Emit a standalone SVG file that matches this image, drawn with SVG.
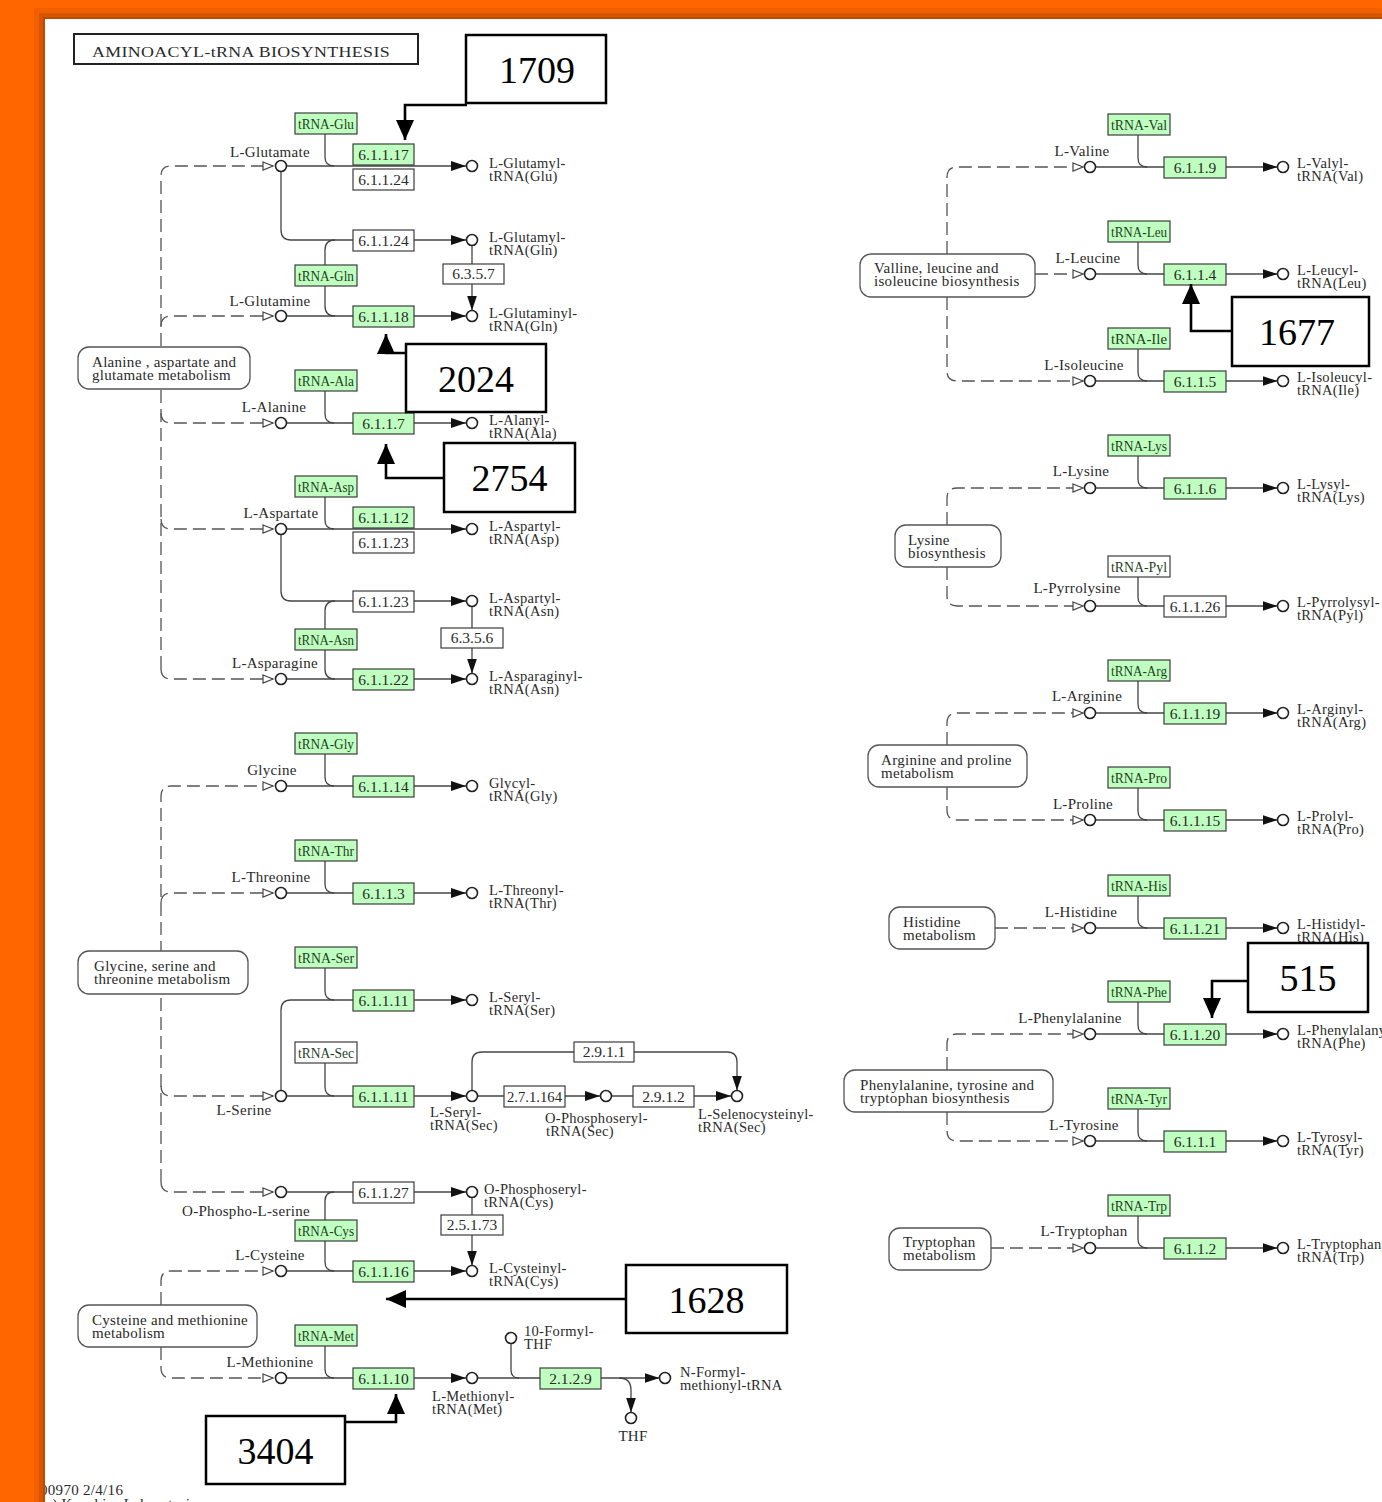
<svg xmlns="http://www.w3.org/2000/svg" width="1382" height="1502" viewBox="0 0 1382 1502">
<defs>
<style>
.t{font-family:"Liberation Serif","Times New Roman",serif;font-size:15px;letter-spacing:0.3px;fill:#2a2a2a}
.p{font-size:14.5px}
.m{text-anchor:middle}
.ec{font-family:"Liberation Serif","Times New Roman",serif;font-size:15.5px;fill:#2a2a2a;text-anchor:middle}
.tr{font-family:"Liberation Serif","Times New Roman",serif;font-size:14px;fill:#1f3f1f;text-anchor:middle}
.g{fill:#bfffbf;stroke:#3c3c3c;stroke-width:1.2}
.w{fill:#fff;stroke:#3c3c3c;stroke-width:1.2}
.map{fill:#fff;stroke:#555;stroke-width:1.3}
.c{fill:#fff;stroke:#222;stroke-width:1.6}
.ln{fill:none;stroke:#444;stroke-width:1.3}
.ds{fill:none;stroke:#555;stroke-width:1.3;stroke-dasharray:13 6}
.cb{fill:#fff;stroke:#000;stroke-width:2.5}
.cn{font-family:"Liberation Serif","Times New Roman",serif;font-size:38px;text-anchor:middle;fill:#000}
.ca{fill:none;stroke:#000;stroke-width:2.6}
</style>
<marker id="ar" markerUnits="userSpaceOnUse" viewBox="0 0 15 10" markerWidth="15" markerHeight="10" refX="15" refY="5" orient="auto"><path d="M0 0L15 5L0 10z" fill="#111"/></marker>
<marker id="op" markerUnits="userSpaceOnUse" viewBox="0 0 12 10" markerWidth="12" markerHeight="10" refX="11" refY="5" orient="auto"><path d="M1 1L11 5L1 9z" fill="#fff" stroke="#444" stroke-width="1.2"/></marker>
<marker id="big" markerUnits="userSpaceOnUse" viewBox="0 0 20 18" markerWidth="20" markerHeight="18" refX="20" refY="9" orient="auto"><path d="M0 0L20 9L0 18z" fill="#000"/></marker>
<clipPath id="panel"><rect x="45" y="19" width="1337" height="1483"/></clipPath>
</defs>

<g id="frame">
<rect width="1382" height="1502" fill="#ff6600"/>
<rect x="34" y="8" width="1348" height="1494" fill="#f06000"/>
<rect x="39" y="13" width="1343" height="1489" fill="#d85400"/>
<rect x="43" y="17" width="1339" height="1485" fill="#bf4a00"/>
<rect x="45" y="19" width="1337" height="1483" fill="#fff"/>
</g>

<g id="title">
<rect x="74" y="34" width="344" height="30" fill="#fff" stroke="#222" stroke-width="2"/>
<text class="t" x="92" y="57" font-size="17" textLength="298" lengthAdjust="spacingAndGlyphs">AMINOACYL-tRNA BIOSYNTHESIS</text>
</g>

<g id="footer" clip-path="url(#panel)">
<text class="t" x="40" y="1495">00970 2/4/16</text>
<text class="t" x="40" y="1509">(c) Kanehisa Laboratories</text>
</g>

<g id="connectors">
<path class="ds" d="M161 669 V176 Q161 166 171 166 H273" marker-end="url(#op)"/>
<path class="ds" d="M161 326 Q161 316 171 316 H273" marker-end="url(#op)"/>
<path class="ds" d="M161 413 Q161 423 171 423 H273" marker-end="url(#op)"/>
<path class="ds" d="M161 519 Q161 529 171 529 H273" marker-end="url(#op)"/>
<path class="ds" d="M161 669 Q161 679 171 679 H273" marker-end="url(#op)"/>
<path class="ds" d="M161 1182 V796 Q161 786 171 786 H273" marker-end="url(#op)"/>
<path class="ds" d="M161 903 Q161 893 171 893 H273" marker-end="url(#op)"/>
<path class="ds" d="M161 1086 Q161 1096 171 1096 H273" marker-end="url(#op)"/>
<path class="ds" d="M161 1182 Q161 1192 171 1192 H273" marker-end="url(#op)"/>
<path class="ds" d="M161 1305 V1281 Q161 1271 171 1271 H273" marker-end="url(#op)"/>
<path class="ds" d="M161 1347 V1368 Q161 1378 171 1378 H273" marker-end="url(#op)"/>
<path class="ds" d="M947 254 V177 Q947 167 957 167 H1083" marker-end="url(#op)"/>
<path class="ds" d="M1035 274 H1083" marker-end="url(#op)"/>
<path class="ds" d="M947 297 V371 Q947 381 957 381 H1083" marker-end="url(#op)"/>
<path class="ds" d="M947 525 V498 Q947 488 957 488 H1083" marker-end="url(#op)"/>
<path class="ds" d="M947 567 V596 Q947 606 957 606 H1083" marker-end="url(#op)"/>
<path class="ds" d="M947 745 V723 Q947 713 957 713 H1083" marker-end="url(#op)"/>
<path class="ds" d="M947 787 V810 Q947 820 957 820 H1083" marker-end="url(#op)"/>
<path class="ds" d="M995 928 H1083" marker-end="url(#op)"/>
<path class="ds" d="M947 1070 V1044 Q947 1034 957 1034 H1083" marker-end="url(#op)"/>
<path class="ds" d="M947 1112 V1131 Q947 1141 957 1141 H1083" marker-end="url(#op)"/>
<path class="ds" d="M991 1248 H1083" marker-end="url(#op)"/>

<path class="ln" d="M286.5 166 H466" marker-end="url(#ar)"/>
<path class="ln" d="M325 134 V157 Q325 166 334 166"/>
<path class="ln" d="M281 171.5 V230 Q281 240 291 240 H466" marker-end="url(#ar)"/>
<path class="ln" d="M325 265 V250 Q325 240 335 240"/>
<path class="ln" d="M325 286 V306 Q325 316 335 316"/>
<path class="ln" d="M286.5 316 H466" marker-end="url(#ar)"/>
<path class="ln" d="M472 245.5 V310.5" marker-end="url(#ar)"/>
<path class="ln" d="M286.5 423 H466" marker-end="url(#ar)"/>
<path class="ln" d="M325 391 V414 Q325 423 334 423"/>
<path class="ln" d="M286.5 529 H466" marker-end="url(#ar)"/>
<path class="ln" d="M325 497 V520 Q325 529 334 529"/>
<path class="ln" d="M281 534.5 V591 Q281 601 291 601 H466" marker-end="url(#ar)"/>
<path class="ln" d="M325 629 V611 Q325 601 335 601"/>
<path class="ln" d="M325 650 V669 Q325 679 335 679"/>
<path class="ln" d="M286.5 679 H466" marker-end="url(#ar)"/>
<path class="ln" d="M472 606.5 V673.5" marker-end="url(#ar)"/>
<path class="ln" d="M286.5 786 H466" marker-end="url(#ar)"/>
<path class="ln" d="M325 754 V777 Q325 786 334 786"/>
<path class="ln" d="M286.5 893 H466" marker-end="url(#ar)"/>
<path class="ln" d="M325 861 V884 Q325 893 334 893"/>
<path class="ln" d="M281 1090.5 V1010 Q281 1000 291 1000 H466" marker-end="url(#ar)"/>
<path class="ln" d="M325 968 V991 Q325 1000 334 1000"/>
<path class="ln" d="M286.5 1096 H466" marker-end="url(#ar)"/>
<path class="ln" d="M325 1063 V1087 Q325 1096 334 1096"/>
<path class="ln" d="M477.5 1096 H600" marker-end="url(#ar)"/>
<path class="ln" d="M611.5 1096 H731" marker-end="url(#ar)"/>
<path class="ln" d="M472 1090.5 V1062 Q472 1052 482 1052 H727 Q737 1052 737 1062 V1090.5" marker-end="url(#ar)"/>
<path class="ln" d="M286.5 1192 H466" marker-end="url(#ar)"/>
<path class="ln" d="M325 1220 V1201 Q325 1192 334 1192"/>
<path class="ln" d="M325 1241 V1262 Q325 1271 334 1271"/>
<path class="ln" d="M472 1197.5 V1265.5" marker-end="url(#ar)"/>
<path class="ln" d="M286.5 1271 H466" marker-end="url(#ar)"/>
<path class="ln" d="M286.5 1378 H466" marker-end="url(#ar)"/>
<path class="ln" d="M325 1346 V1369 Q325 1378 334 1378"/>
<path class="ln" d="M477.5 1378 H659.5" marker-end="url(#ar)"/>
<path class="ln" d="M511 1343.5 V1370 Q511 1378 519 1378"/>
<path class="ln" d="M619 1378 Q631 1378 631 1390 V1412.5" marker-end="url(#ar)"/>

<path class="ln" d="M1095.5 167 H1277.5" marker-end="url(#ar)"/>
<path class="ln" d="M1138 135 V158 Q1138 167 1147 167"/>
<path class="ln" d="M1095.5 274 H1277.5" marker-end="url(#ar)"/>
<path class="ln" d="M1138 242 V265 Q1138 274 1147 274"/>
<path class="ln" d="M1095.5 381 H1277.5" marker-end="url(#ar)"/>
<path class="ln" d="M1138 349 V372 Q1138 381 1147 381"/>
<path class="ln" d="M1095.5 488 H1277.5" marker-end="url(#ar)"/>
<path class="ln" d="M1138 456 V479 Q1138 488 1147 488"/>
<path class="ln" d="M1095.5 606 H1277.5" marker-end="url(#ar)"/>
<path class="ln" d="M1138 577 V597 Q1138 606 1147 606"/>
<path class="ln" d="M1095.5 713 H1277.5" marker-end="url(#ar)"/>
<path class="ln" d="M1138 681 V704 Q1138 713 1147 713"/>
<path class="ln" d="M1095.5 820 H1277.5" marker-end="url(#ar)"/>
<path class="ln" d="M1138 788 V811 Q1138 820 1147 820"/>
<path class="ln" d="M1095.5 928 H1277.5" marker-end="url(#ar)"/>
<path class="ln" d="M1138 896 V919 Q1138 928 1147 928"/>
<path class="ln" d="M1095.5 1034 H1277.5" marker-end="url(#ar)"/>
<path class="ln" d="M1138 1002 V1025 Q1138 1034 1147 1034"/>
<path class="ln" d="M1095.5 1141 H1277.5" marker-end="url(#ar)"/>
<path class="ln" d="M1138 1109 V1132 Q1138 1141 1147 1141"/>
<path class="ln" d="M1095.5 1248 H1277.5" marker-end="url(#ar)"/>
<path class="ln" d="M1138 1216 V1239 Q1138 1248 1147 1248"/>
</g>

<g id="map-ala-asp-glu"><rect class="map" x="78" y="347" width="172" height="42" rx="11"/><text class="t" x="92" y="367">Alanine , aspartate and</text><text class="t" x="92" y="380">glutamate metabolism</text></g>
<g id="map-gly-ser-thr"><rect class="map" x="78" y="951" width="170" height="43" rx="11"/><text class="t" x="94" y="971">Glycine, serine and</text><text class="t" x="94" y="984">threonine metabolism</text></g>
<g id="map-cys-met"><rect class="map" x="78" y="1305" width="179" height="42" rx="11"/><text class="t" x="92" y="1325">Cysteine and methionine</text><text class="t" x="92" y="1338">metabolism</text></g>
<g id="map-val-leu-ile"><rect class="map" x="860" y="254" width="175" height="43" rx="11"/><text class="t" x="874" y="273">Valline, leucine and</text><text class="t" x="874" y="286">isoleucine biosynthesis</text></g>
<g id="map-lys"><rect class="map" x="895" y="525" width="106" height="42" rx="11"/><text class="t" x="908" y="545">Lysine</text><text class="t" x="908" y="558">biosynthesis</text></g>
<g id="map-arg-pro"><rect class="map" x="868" y="745" width="159" height="42" rx="11"/><text class="t" x="881" y="765">Arginine and proline</text><text class="t" x="881" y="778">metabolism</text></g>
<g id="map-his"><rect class="map" x="889" y="907" width="106" height="42" rx="11"/><text class="t" x="903" y="927">Histidine</text><text class="t" x="903" y="940">metabolism</text></g>
<g id="map-phe-tyr-trp"><rect class="map" x="844" y="1070" width="209" height="42" rx="11"/><text class="t" x="860" y="1090">Phenylalanine, tyrosine and</text><text class="t" x="860" y="1103">tryptophan biosynthesis</text></g>
<g id="map-trp"><rect class="map" x="889" y="1228" width="102" height="42" rx="11"/><text class="t" x="903" y="1247">Tryptophan</text><text class="t" x="903" y="1260">metabolism</text></g>

<g id="trna-glu"><rect class="g" x="295" y="113" width="62" height="21"/><text class="tr" x="326" y="128.5" textLength="56" lengthAdjust="spacingAndGlyphs">tRNA-Glu</text></g>
<g id="trna-gln"><rect class="g" x="295" y="265" width="62" height="21"/><text class="tr" x="326" y="280.5" textLength="56" lengthAdjust="spacingAndGlyphs">tRNA-Gln</text></g>
<g id="trna-ala"><rect class="g" x="295" y="370" width="62" height="21"/><text class="tr" x="326" y="385.5" textLength="56" lengthAdjust="spacingAndGlyphs">tRNA-Ala</text></g>
<g id="trna-asp"><rect class="g" x="295" y="476" width="62" height="21"/><text class="tr" x="326" y="491.5" textLength="56" lengthAdjust="spacingAndGlyphs">tRNA-Asp</text></g>
<g id="trna-asn"><rect class="g" x="295" y="629" width="62" height="21"/><text class="tr" x="326" y="644.5" textLength="56" lengthAdjust="spacingAndGlyphs">tRNA-Asn</text></g>
<g id="trna-gly"><rect class="g" x="295" y="733" width="62" height="21"/><text class="tr" x="326" y="748.5" textLength="56" lengthAdjust="spacingAndGlyphs">tRNA-Gly</text></g>
<g id="trna-thr"><rect class="g" x="295" y="840" width="62" height="21"/><text class="tr" x="326" y="855.5" textLength="56" lengthAdjust="spacingAndGlyphs">tRNA-Thr</text></g>
<g id="trna-ser"><rect class="g" x="295" y="947" width="62" height="21"/><text class="tr" x="326" y="962.5" textLength="56" lengthAdjust="spacingAndGlyphs">tRNA-Ser</text></g>
<g id="trna-sec"><rect class="w" x="295" y="1042" width="62" height="21"/><text class="tr" x="326" y="1057.5" textLength="56" lengthAdjust="spacingAndGlyphs">tRNA-Sec</text></g>
<g id="trna-cys"><rect class="g" x="295" y="1220" width="62" height="21"/><text class="tr" x="326" y="1235.5" textLength="56" lengthAdjust="spacingAndGlyphs">tRNA-Cys</text></g>
<g id="trna-met"><rect class="g" x="295" y="1325" width="62" height="21"/><text class="tr" x="326" y="1340.5" textLength="56" lengthAdjust="spacingAndGlyphs">tRNA-Met</text></g>

<g id="trna-val"><rect class="g" x="1108" y="114" width="62" height="21"/><text class="tr" x="1139" y="129.5" textLength="56" lengthAdjust="spacingAndGlyphs">tRNA-Val</text></g>
<g id="trna-leu"><rect class="g" x="1108" y="221" width="62" height="21"/><text class="tr" x="1139" y="236.5" textLength="56" lengthAdjust="spacingAndGlyphs">tRNA-Leu</text></g>
<g id="trna-ile"><rect class="g" x="1108" y="328" width="62" height="21"/><text class="tr" x="1139" y="343.5" textLength="56" lengthAdjust="spacingAndGlyphs">tRNA-Ile</text></g>
<g id="trna-lys"><rect class="g" x="1108" y="435" width="62" height="21"/><text class="tr" x="1139" y="450.5" textLength="56" lengthAdjust="spacingAndGlyphs">tRNA-Lys</text></g>
<g id="trna-pyl"><rect class="w" x="1108" y="556" width="62" height="21"/><text class="tr" x="1139" y="571.5" textLength="56" lengthAdjust="spacingAndGlyphs">tRNA-Pyl</text></g>
<g id="trna-arg"><rect class="g" x="1108" y="660" width="62" height="21"/><text class="tr" x="1139" y="675.5" textLength="56" lengthAdjust="spacingAndGlyphs">tRNA-Arg</text></g>
<g id="trna-pro"><rect class="g" x="1108" y="767" width="62" height="21"/><text class="tr" x="1139" y="782.5" textLength="56" lengthAdjust="spacingAndGlyphs">tRNA-Pro</text></g>
<g id="trna-his"><rect class="g" x="1108" y="875" width="62" height="21"/><text class="tr" x="1139" y="890.5" textLength="56" lengthAdjust="spacingAndGlyphs">tRNA-His</text></g>
<g id="trna-phe"><rect class="g" x="1108" y="981" width="62" height="21"/><text class="tr" x="1139" y="996.5" textLength="56" lengthAdjust="spacingAndGlyphs">tRNA-Phe</text></g>
<g id="trna-tyr"><rect class="g" x="1108" y="1088" width="62" height="21"/><text class="tr" x="1139" y="1103.5" textLength="56" lengthAdjust="spacingAndGlyphs">tRNA-Tyr</text></g>
<g id="trna-trp"><rect class="g" x="1108" y="1195" width="62" height="21"/><text class="tr" x="1139" y="1210.5" textLength="56" lengthAdjust="spacingAndGlyphs">tRNA-Trp</text></g>

<g id="ec-6.1.1.17"><rect class="g" x="353" y="144" width="61" height="21"/><text class="ec" x="383.5" y="160">6.1.1.17</text></g>
<g id="ec-6.1.1.24a"><rect class="w" x="353" y="169" width="61" height="21"/><text class="ec" x="383.5" y="185">6.1.1.24</text></g>
<g id="ec-6.1.1.24b"><rect class="w" x="353" y="230" width="61" height="21"/><text class="ec" x="383.5" y="246">6.1.1.24</text></g>
<g id="ec-6.3.5.7"><rect class="w" x="443" y="264" width="61" height="20"/><text class="ec" x="473.5" y="279">6.3.5.7</text></g>
<g id="ec-6.1.1.18"><rect class="g" x="353" y="306" width="61" height="21"/><text class="ec" x="383.5" y="322">6.1.1.18</text></g>
<g id="ec-6.1.1.7"><rect class="g" x="353" y="413" width="61" height="21"/><text class="ec" x="383.5" y="429">6.1.1.7</text></g>
<g id="ec-6.1.1.12"><rect class="g" x="353" y="507" width="61" height="21"/><text class="ec" x="383.5" y="523">6.1.1.12</text></g>
<g id="ec-6.1.1.23a"><rect class="w" x="353" y="532" width="61" height="21"/><text class="ec" x="383.5" y="548">6.1.1.23</text></g>
<g id="ec-6.1.1.23b"><rect class="w" x="353" y="591" width="61" height="21"/><text class="ec" x="383.5" y="607">6.1.1.23</text></g>
<g id="ec-6.3.5.6"><rect class="w" x="441" y="628" width="62" height="20"/><text class="ec" x="472" y="643">6.3.5.6</text></g>
<g id="ec-6.1.1.22"><rect class="g" x="353" y="669" width="61" height="21"/><text class="ec" x="383.5" y="685">6.1.1.22</text></g>
<g id="ec-6.1.1.14"><rect class="g" x="353" y="776" width="61" height="21"/><text class="ec" x="383.5" y="792">6.1.1.14</text></g>
<g id="ec-6.1.1.3"><rect class="g" x="353" y="883" width="61" height="21"/><text class="ec" x="383.5" y="899">6.1.1.3</text></g>
<g id="ec-6.1.1.11a"><rect class="g" x="353" y="990" width="61" height="21"/><text class="ec" x="383.5" y="1006">6.1.1.11</text></g>
<g id="ec-6.1.1.11b"><rect class="g" x="353" y="1086" width="61" height="21"/><text class="ec" x="383.5" y="1102">6.1.1.11</text></g>
<g id="ec-2.7.1.164"><rect class="w" x="504" y="1086" width="61" height="21"/><text class="ec" x="534.5" y="1102" textLength="55" lengthAdjust="spacingAndGlyphs">2.7.1.164</text></g>
<g id="ec-2.9.1.2"><rect class="w" x="633" y="1086" width="61" height="21"/><text class="ec" x="663.5" y="1102">2.9.1.2</text></g>
<g id="ec-2.9.1.1"><rect class="w" x="574" y="1042" width="60" height="20"/><text class="ec" x="604" y="1057">2.9.1.1</text></g>
<g id="ec-6.1.1.27"><rect class="w" x="353" y="1182" width="61" height="21"/><text class="ec" x="383.5" y="1198">6.1.1.27</text></g>
<g id="ec-2.5.1.73"><rect class="w" x="441" y="1215" width="62" height="20"/><text class="ec" x="472" y="1230">2.5.1.73</text></g>
<g id="ec-6.1.1.16"><rect class="g" x="353" y="1261" width="61" height="21"/><text class="ec" x="383.5" y="1277">6.1.1.16</text></g>
<g id="ec-6.1.1.10"><rect class="g" x="353" y="1368" width="61" height="21"/><text class="ec" x="383.5" y="1384">6.1.1.10</text></g>
<g id="ec-2.1.2.9"><rect class="g" x="540" y="1368" width="61" height="21"/><text class="ec" x="570.5" y="1384">2.1.2.9</text></g>

<g id="ec-6.1.1.9"><rect class="g" x="1164" y="157" width="62" height="21"/><text class="ec" x="1195" y="173">6.1.1.9</text></g>
<g id="ec-6.1.1.4"><rect class="g" x="1164" y="264" width="62" height="21"/><text class="ec" x="1195" y="280">6.1.1.4</text></g>
<g id="ec-6.1.1.5"><rect class="g" x="1164" y="371" width="62" height="21"/><text class="ec" x="1195" y="387">6.1.1.5</text></g>
<g id="ec-6.1.1.6"><rect class="g" x="1164" y="478" width="62" height="21"/><text class="ec" x="1195" y="494">6.1.1.6</text></g>
<g id="ec-6.1.1.26"><rect class="w" x="1164" y="596" width="62" height="21"/><text class="ec" x="1195" y="612">6.1.1.26</text></g>
<g id="ec-6.1.1.19"><rect class="g" x="1164" y="703" width="62" height="21"/><text class="ec" x="1195" y="719">6.1.1.19</text></g>
<g id="ec-6.1.1.15"><rect class="g" x="1164" y="810" width="62" height="21"/><text class="ec" x="1195" y="826">6.1.1.15</text></g>
<g id="ec-6.1.1.21"><rect class="g" x="1164" y="918" width="62" height="21"/><text class="ec" x="1195" y="934">6.1.1.21</text></g>
<g id="ec-6.1.1.20"><rect class="g" x="1164" y="1024" width="62" height="21"/><text class="ec" x="1195" y="1040">6.1.1.20</text></g>
<g id="ec-6.1.1.1"><rect class="g" x="1164" y="1131" width="62" height="21"/><text class="ec" x="1195" y="1147">6.1.1.1</text></g>
<g id="ec-6.1.1.2"><rect class="g" x="1164" y="1238" width="62" height="21"/><text class="ec" x="1195" y="1254">6.1.1.2</text></g>

<g id="cpd-glu"><circle class="c" cx="281" cy="166" r="5.5"/><text class="t m" x="270" y="157">L-Glutamate</text></g>
<g id="cpd-glu-trna-glu"><circle class="c" cx="472" cy="166" r="5.5"/><text class="t p" x="489" y="168">L-Glutamyl-<tspan x="489" dy="13">tRNA(Glu)</tspan></text></g>
<g id="cpd-glu-trna-gln"><circle class="c" cx="472" cy="240" r="5.5"/><text class="t p" x="489" y="242">L-Glutamyl-<tspan x="489" dy="13">tRNA(Gln)</tspan></text></g>
<g id="cpd-gln"><circle class="c" cx="281" cy="316" r="5.5"/><text class="t m" x="270" y="306">L-Glutamine</text></g>
<g id="cpd-gln-trna"><circle class="c" cx="472" cy="316" r="5.5"/><text class="t p" x="489" y="318">L-Glutaminyl-<tspan x="489" dy="13">tRNA(Gln)</tspan></text></g>
<g id="cpd-ala"><circle class="c" cx="281" cy="423" r="5.5"/><text class="t m" x="274" y="412">L-Alanine</text></g>
<g id="cpd-ala-trna"><circle class="c" cx="472" cy="423" r="5.5"/><text class="t p" x="489" y="425">L-Alanyl-<tspan x="489" dy="13">tRNA(Ala)</tspan></text></g>
<g id="cpd-asp"><circle class="c" cx="281" cy="529" r="5.5"/><text class="t m" x="281" y="518">L-Aspartate</text></g>
<g id="cpd-asp-trna-asp"><circle class="c" cx="472" cy="529" r="5.5"/><text class="t p" x="489" y="531">L-Aspartyl-<tspan x="489" dy="13">tRNA(Asp)</tspan></text></g>
<g id="cpd-asp-trna-asn"><circle class="c" cx="472" cy="601" r="5.5"/><text class="t p" x="489" y="603">L-Aspartyl-<tspan x="489" dy="13">tRNA(Asn)</tspan></text></g>
<g id="cpd-asn"><circle class="c" cx="281" cy="679" r="5.5"/><text class="t m" x="275" y="668">L-Asparagine</text></g>
<g id="cpd-asn-trna"><circle class="c" cx="472" cy="679" r="5.5"/><text class="t p" x="489" y="681">L-Asparaginyl-<tspan x="489" dy="13">tRNA(Asn)</tspan></text></g>
<g id="cpd-gly"><circle class="c" cx="281" cy="786" r="5.5"/><text class="t m" x="272" y="775">Glycine</text></g>
<g id="cpd-gly-trna"><circle class="c" cx="472" cy="786" r="5.5"/><text class="t p" x="489" y="788">Glycyl-<tspan x="489" dy="13">tRNA(Gly)</tspan></text></g>
<g id="cpd-thr"><circle class="c" cx="281" cy="893" r="5.5"/><text class="t m" x="271" y="882">L-Threonine</text></g>
<g id="cpd-thr-trna"><circle class="c" cx="472" cy="893" r="5.5"/><text class="t p" x="489" y="895">L-Threonyl-<tspan x="489" dy="13">tRNA(Thr)</tspan></text></g>
<g id="cpd-ser-trna-ser"><circle class="c" cx="472" cy="1000" r="5.5"/><text class="t p" x="489" y="1002">L-Seryl-<tspan x="489" dy="13">tRNA(Ser)</tspan></text></g>
<g id="cpd-ser"><circle class="c" cx="281" cy="1096" r="5.5"/><text class="t m" x="244" y="1115">L-Serine</text></g>
<g id="cpd-ser-trna-sec"><circle class="c" cx="472" cy="1096" r="5.5"/><text class="t p" x="430" y="1117">L-Seryl-<tspan x="430" dy="13">tRNA(Sec)</tspan></text></g>
<g id="cpd-pser-trna-sec"><circle class="c" cx="606" cy="1096" r="5.5"/><text class="t p" x="545" y="1123">O-Phosphoseryl-<tspan x="546" dy="13">tRNA(Sec)</tspan></text></g>
<g id="cpd-sec-trna"><circle class="c" cx="737" cy="1096" r="5.5"/><text class="t p" x="698" y="1119">L-Selenocysteinyl-<tspan x="698" dy="13">tRNA(Sec)</tspan></text></g>
<g id="cpd-pser"><circle class="c" cx="281" cy="1192" r="5.5"/><text class="t m" x="246" y="1216">O-Phospho-L-serine</text></g>
<g id="cpd-pser-trna-cys"><circle class="c" cx="472" cy="1192" r="5.5"/><text class="t p" x="484" y="1194">O-Phosphoseryl-<tspan x="484" dy="13">tRNA(Cys)</tspan></text></g>
<g id="cpd-cys"><circle class="c" cx="281" cy="1271" r="5.5"/><text class="t m" x="270" y="1260">L-Cysteine</text></g>
<g id="cpd-cys-trna"><circle class="c" cx="472" cy="1271" r="5.5"/><text class="t p" x="489" y="1273">L-Cysteinyl-<tspan x="489" dy="13">tRNA(Cys)</tspan></text></g>
<g id="cpd-met"><circle class="c" cx="281" cy="1378" r="5.5"/><text class="t m" x="270" y="1367">L-Methionine</text></g>
<g id="cpd-met-trna"><circle class="c" cx="472" cy="1378" r="5.5"/><text class="t p" x="432" y="1401">L-Methionyl-<tspan x="432" dy="13">tRNA(Met)</tspan></text></g>
<g id="cpd-fthf"><circle class="c" cx="511" cy="1338" r="5.5"/><text class="t p" x="524" y="1336">10-Formyl-<tspan x="524" dy="13">THF</tspan></text></g>
<g id="cpd-fmet-trna"><circle class="c" cx="665" cy="1378" r="5.5"/><text class="t p" x="680" y="1377">N-Formyl-<tspan x="680" dy="13">methionyl-tRNA</tspan></text></g>
<g id="cpd-thf"><circle class="c" cx="631" cy="1418" r="5.5"/><text class="t m" x="633" y="1441">THF</text></g>

<g id="cpd-val"><circle class="c" cx="1090" cy="167" r="5.5"/><text class="t m" x="1082" y="156">L-Valine</text></g>
<g id="cpd-val-trna"><circle class="c" cx="1283" cy="167" r="5.5"/><text class="t p" x="1297" y="168">L-Valyl-<tspan x="1297" dy="13">tRNA(Val)</tspan></text></g>
<g id="cpd-leu"><circle class="c" cx="1090" cy="274" r="5.5"/><text class="t m" x="1088" y="263">L-Leucine</text></g>
<g id="cpd-leu-trna"><circle class="c" cx="1283" cy="274" r="5.5"/><text class="t p" x="1297" y="275">L-Leucyl-<tspan x="1297" dy="13">tRNA(Leu)</tspan></text></g>
<g id="cpd-ile"><circle class="c" cx="1090" cy="381" r="5.5"/><text class="t m" x="1084" y="370">L-Isoleucine</text></g>
<g id="cpd-ile-trna"><circle class="c" cx="1283" cy="381" r="5.5"/><text class="t p" x="1297" y="382">L-Isoleucyl-<tspan x="1297" dy="13">tRNA(Ile)</tspan></text></g>
<g id="cpd-lys"><circle class="c" cx="1090" cy="488" r="5.5"/><text class="t m" x="1081" y="476">L-Lysine</text></g>
<g id="cpd-lys-trna"><circle class="c" cx="1283" cy="488" r="5.5"/><text class="t p" x="1297" y="489">L-Lysyl-<tspan x="1297" dy="13">tRNA(Lys)</tspan></text></g>
<g id="cpd-pyl"><circle class="c" cx="1090" cy="606" r="5.5"/><text class="t m" x="1077" y="593">L-Pyrrolysine</text></g>
<g id="cpd-pyl-trna"><circle class="c" cx="1283" cy="606" r="5.5"/><text class="t p" x="1297" y="607">L-Pyrrolysyl-<tspan x="1297" dy="13">tRNA(Pyl)</tspan></text></g>
<g id="cpd-arg"><circle class="c" cx="1090" cy="713" r="5.5"/><text class="t m" x="1087" y="701">L-Arginine</text></g>
<g id="cpd-arg-trna"><circle class="c" cx="1283" cy="713" r="5.5"/><text class="t p" x="1297" y="714">L-Arginyl-<tspan x="1297" dy="13">tRNA(Arg)</tspan></text></g>
<g id="cpd-pro"><circle class="c" cx="1090" cy="820" r="5.5"/><text class="t m" x="1083" y="809">L-Proline</text></g>
<g id="cpd-pro-trna"><circle class="c" cx="1283" cy="820" r="5.5"/><text class="t p" x="1297" y="821">L-Prolyl-<tspan x="1297" dy="13">tRNA(Pro)</tspan></text></g>
<g id="cpd-his"><circle class="c" cx="1090" cy="928" r="5.5"/><text class="t m" x="1081" y="917">L-Histidine</text></g>
<g id="cpd-his-trna"><circle class="c" cx="1283" cy="928" r="5.5"/><text class="t p" x="1297" y="929">L-Histidyl-<tspan x="1297" dy="13">tRNA(His)</tspan></text></g>
<g id="cpd-phe"><circle class="c" cx="1090" cy="1034" r="5.5"/><text class="t m" x="1070" y="1023">L-Phenylalanine</text></g>
<g id="cpd-phe-trna"><circle class="c" cx="1283" cy="1034" r="5.5"/><text class="t p" x="1297" y="1035">L-Phenylalanyl-<tspan x="1297" dy="13">tRNA(Phe)</tspan></text></g>
<g id="cpd-tyr"><circle class="c" cx="1090" cy="1141" r="5.5"/><text class="t m" x="1084" y="1130">L-Tyrosine</text></g>
<g id="cpd-tyr-trna"><circle class="c" cx="1283" cy="1141" r="5.5"/><text class="t p" x="1297" y="1142">L-Tyrosyl-<tspan x="1297" dy="13">tRNA(Tyr)</tspan></text></g>
<g id="cpd-trp"><circle class="c" cx="1090" cy="1248" r="5.5"/><text class="t m" x="1084" y="1236">L-Tryptophan</text></g>
<g id="cpd-trp-trna"><circle class="c" cx="1283" cy="1248" r="5.5"/><text class="t p" x="1297" y="1249">L-Tryptophanyl-<tspan x="1297" dy="13">tRNA(Trp)</tspan></text></g>

<g id="callout-connectors">
<path class="ca" d="M467 105 H405 V140" marker-end="url(#big)"/>
<path class="ca" d="M406 353 H386 V334" marker-end="url(#big)"/>
<path class="ca" d="M444 478 H386 V444" marker-end="url(#big)"/>
<path class="ca" d="M626 1299 H386" marker-end="url(#big)"/>
<path class="ca" d="M345 1422 H396 V1394" marker-end="url(#big)"/>
<path class="ca" d="M1232 331 H1191 V284" marker-end="url(#big)"/>
<path class="ca" d="M1248 981 H1212 V1018" marker-end="url(#big)"/>
</g>
<g id="callout-1709"><rect class="cb" x="466" y="35" width="140" height="68"/><text class="cn" x="537" y="83">1709</text></g>
<g id="callout-2024"><rect class="cb" x="406" y="344" width="140" height="68"/><text class="cn" x="476" y="392">2024</text></g>
<g id="callout-2754"><rect class="cb" x="444" y="443" width="131" height="69"/><text class="cn" x="509.5" y="491">2754</text></g>
<g id="callout-1628"><rect class="cb" x="626" y="1265" width="161" height="68"/><text class="cn" x="706.5" y="1313">1628</text></g>
<g id="callout-3404"><rect class="cb" x="206" y="1416" width="139" height="68"/><text class="cn" x="275.5" y="1464">3404</text></g>
<g id="callout-1677"><rect class="cb" x="1232" y="297" width="137" height="69"/><text class="cn" x="1297" y="345">1677</text></g>
<g id="callout-515"><rect class="cb" x="1248" y="943" width="120" height="69"/><text class="cn" x="1308" y="991">515</text></g>
</svg>
